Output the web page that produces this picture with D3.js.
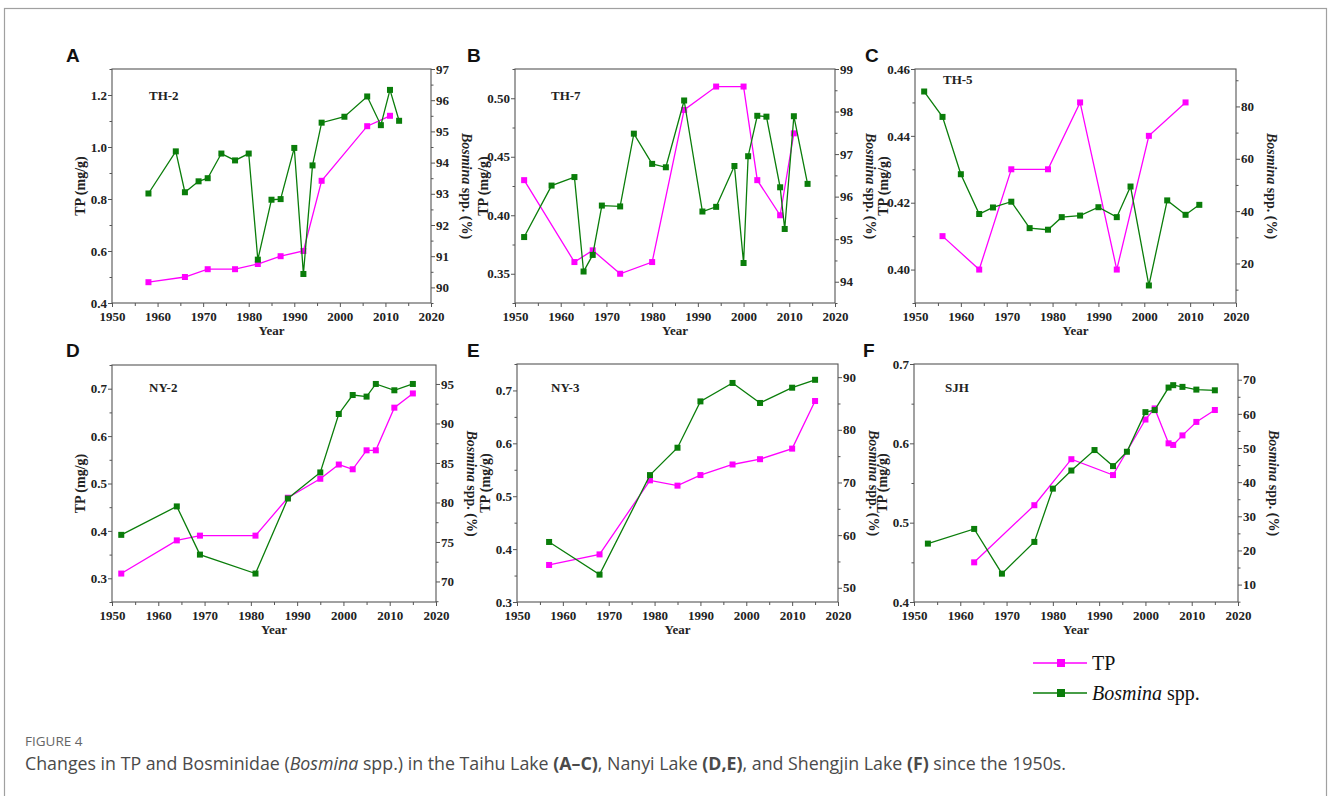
<!DOCTYPE html>
<html>
<head>
<meta charset="utf-8">
<script src="https://cdn.jsdelivr.net/npm/d3@7"></script>
<style>
  body { margin: 0; background: #fff; }
  svg { display: block; }
</style>
</head>
<body>
<div id="chart"></div>
<script>
// ---- data ----
// A: TH-2
const yearsA_tp = [1958, 1966, 1971, 1977, 1982, 1987, 1992, 1996, 2006, 2011];
const tpA = [0.48, 0.50, 0.53, 0.53, 0.55, 0.58, 0.60, 0.87, 1.08, 1.12];
const yearsA_bos = [1958, 1964, 1966, 1969, 1971, 1974, 1977, 1980, 1982, 1985, 1987, 1990, 1992, 1994, 1996, 2001, 2006, 2009, 2011, 2013];
const bosA = [93.01, 94.36, 93.05, 93.40, 93.50, 94.29, 94.07, 94.29, 90.89, 92.81, 92.83, 94.47, 90.43, 93.91, 95.28, 95.47, 96.12, 95.20, 96.33, 95.34];

// B: TH-7
const yearsB_tp = [1952, 1963, 1967, 1973, 1980, 1987, 1994, 2000, 2003, 2008, 2011];
const tpB = [0.43, 0.36, 0.37, 0.35, 0.36, 0.49, 0.51, 0.51, 0.43, 0.40, 0.47];
const yearsB_bos = [1952, 1958, 1963, 1965, 1967, 1969, 1973, 1976, 1980, 1983, 1987, 1991, 1994, 1998, 2000, 2001, 2003, 2005, 2008, 2009, 2011, 2014];
const bosB = [95.05, 96.26, 96.46, 94.24, 94.63, 95.79, 95.77, 97.48, 96.77, 96.69, 98.26, 95.65, 95.76, 96.72, 94.44, 96.95, 97.90, 97.88, 96.22, 95.24, 97.89, 96.30];

// C: TH-5
const yearsC_tp = [1956, 1964, 1971, 1979, 1986, 1994, 2001, 2009];
const tpC = [0.41, 0.40, 0.43, 0.43, 0.45, 0.40, 0.44, 0.45];
const yearsC_bos = [1952, 1956, 1960, 1964, 1967, 1971, 1975, 1979, 1982, 1986, 1990, 1994, 1997, 2001, 2005, 2009, 2012];
const bosC = [85.7, 76.0, 54.1, 38.9, 41.4, 43.6, 33.5, 32.9, 37.7, 38.3, 41.5, 37.7, 49.4, 11.6, 44.1, 38.6, 42.4];

// D: NY-2
const yearsD = [1952, 1964, 1969, 1981, 1988, 1995, 1999, 2002, 2005, 2007, 2011, 2015];
const tpD = [0.31, 0.38, 0.39, 0.39, 0.47, 0.51, 0.54, 0.53, 0.57, 0.57, 0.66, 0.69];
const bosD = [75.9, 79.5, 73.4, 71.0, 80.5, 83.8, 91.2, 93.6, 93.4, 95.0, 94.2, 95.0];

// E: NY-3
const yearsE = [1957, 1968, 1979, 1985, 1990, 1997, 2003, 2010, 2015];
const tpE = [0.37, 0.39, 0.53, 0.52, 0.54, 0.56, 0.57, 0.59, 0.68];
const bosE = [58.7, 52.5, 71.4, 76.6, 85.4, 88.9, 85.1, 88.0, 89.5];

// F: SJH
const yearsF_tp = [1963, 1976, 1984, 1993, 2000, 2002, 2005, 2006, 2008, 2011, 2015];
const tpF = [0.45, 0.522, 0.58, 0.56, 0.63, 0.644, 0.60, 0.598, 0.61, 0.627, 0.642];
const yearsF_bos = [1953, 1963, 1969, 1976, 1980, 1984, 1989, 1993, 1996, 2000, 2002, 2005, 2006, 2008, 2011, 2015];
const bosF = [22.0, 26.3, 13.2, 22.5, 38.1, 43.4, 49.4, 44.7, 48.9, 60.5, 61.1, 67.7, 68.4, 67.9, 67.1, 66.9];

const xTicks = [1950, 1960, 1970, 1980, 1990, 2000, 2010, 2020];

const TP_COLOR = "#ff00ff";
const BOS_COLOR = "#0a7d0a";
const AXIS_COLOR = "#555";
const SERIF = "'Liberation Serif', 'Times New Roman', serif";

const panels = [
  {letter: "A", station: "TH-2", box: [112, 69, 431, 303], lx: 66, ly: 62, sx: 149, sy: 100,
   tp: [yearsA_tp, tpA], bos: [yearsA_bos, bosA],
   yl: [0.4, 1.3], ylTicks: [0.4, 0.6, 0.8, 1.0, 1.2], ylFmt: ".1f", ylMinor: 0.1,
   yr: [89.5, 97], yrTicks: [90, 91, 92, 93, 94, 95, 96, 97], yrMinor: 0.5},
  {letter: "B", station: "TH-7", box: [515, 69, 835, 303], lx: 467, ly: 62, sx: 551, sy: 100,
   tp: [yearsB_tp, tpB], bos: [yearsB_bos, bosB],
   yl: [0.325, 0.525], ylTicks: [0.35, 0.40, 0.45, 0.50], ylFmt: ".2f", ylMinor: 0.025,
   yr: [93.5, 99], yrTicks: [94, 95, 96, 97, 98, 99], yrMinor: 0.5},
  {letter: "C", station: "TH-5", box: [915, 69, 1236, 303], lx: 865, ly: 62, sx: 943, sy: 84,
   tp: [yearsC_tp, tpC], bos: [yearsC_bos, bosC],
   yl: [0.39, 0.46], ylTicks: [0.40, 0.42, 0.44, 0.46], ylFmt: ".2f", ylMinor: 0.01,
   yr: [4.9, 94.3], yrTicks: [20, 40, 60, 80], yrMinor: 10},
  {letter: "D", station: "NY-2", box: [112, 365, 436, 602], lx: 66, ly: 357, sx: 149, sy: 392,
   tp: [yearsD, tpD], bos: [yearsD, bosD],
   yl: [0.25, 0.75], ylTicks: [0.3, 0.4, 0.5, 0.6, 0.7], ylFmt: ".1f", ylMinor: 0.05,
   yr: [67.4, 97.4], yrTicks: [70, 75, 80, 85, 90, 95], yrMinor: 2.5},
  {letter: "E", station: "NY-3", box: [517, 364, 838, 602], lx: 467, ly: 357, sx: 551, sy: 392,
   tp: [yearsE, tpE], bos: [yearsE, bosE],
   yl: [0.3, 0.75], ylTicks: [0.3, 0.4, 0.5, 0.6, 0.7], ylFmt: ".1f", ylMinor: 0.05,
   yr: [47.3, 92.5], yrTicks: [50, 60, 70, 80, 90], yrMinor: 5},
  {letter: "F", station: "SJH", box: [914, 364, 1238, 602], lx: 863, ly: 357, sx: 945, sy: 392,
   tp: [yearsF_tp, tpF], bos: [yearsF_bos, bosF],
   yl: [0.4, 0.7], ylTicks: [0.4, 0.5, 0.6, 0.7], ylFmt: ".1f", ylMinor: 0.05,
   yr: [4.9, 74.6], yrTicks: [10, 20, 30, 40, 50, 60, 70], yrMinor: 5}
];

const W = 1328, H = 796;
const svg = d3.select("#chart").append("svg")
  .attr("width", W).attr("height", H);

// outer frame (bottom edge runs off the page)
svg.append("rect")
  .attr("x", 4.5).attr("y", 8.5)
  .attr("width", 1322).attr("height", 820)
  .attr("fill", "none").attr("stroke", "#a0a0a0").attr("stroke-width", 1.2);

function minorValues(domain, step, majors) {
  const out = [];
  const start = Math.ceil(domain[0] / step - 1e-9) * step;
  for (let v = start; v <= domain[1] + 1e-9; v += step) {
    const r = +v.toFixed(6);
    if (!majors.some(m => Math.abs(m - r) < 1e-6)) out.push(r);
  }
  return out;
}

function styleAxis(g) {
  g.select(".domain").remove();
  g.selectAll(".tick line").attr("stroke", AXIS_COLOR).attr("stroke-width", 1);
  g.selectAll(".tick text")
    .attr("fill", "#222")
    .style("font-family", SERIF)
    .style("font-weight", "bold")
    .style("font-size", "13px");
}

panels.forEach(p => {
  const [x0, y0, x1, y1] = p.box;
  const x = d3.scaleLinear().domain([1950, 2020]).range([x0, x1]);
  const yL = d3.scaleLinear().domain(p.yl).range([y1, y0]);
  const yR = d3.scaleLinear().domain(p.yr).range([y1, y0]);
  const g = svg.append("g");

  // x axis
  g.append("g").attr("transform", `translate(0,${y1})`)
    .call(d3.axisBottom(x).tickValues(xTicks).tickFormat(d3.format("d")).tickSize(4).tickPadding(5))
    .call(styleAxis);
  g.append("g").attr("transform", `translate(0,${y1})`)
    .call(d3.axisBottom(x).tickValues(d3.range(1955, 2020, 10)).tickFormat("").tickSize(3))
    .call(styleAxis);

  // left axis
  g.append("g").attr("transform", `translate(${x0},0)`)
    .call(d3.axisLeft(yL).tickValues(p.ylTicks).tickFormat(d3.format(p.ylFmt)).tickSize(4).tickPadding(1))
    .call(styleAxis);
  g.append("g").attr("transform", `translate(${x0},0)`)
    .call(d3.axisLeft(yL).tickValues(minorValues(p.yl, p.ylMinor, p.ylTicks)).tickFormat("").tickSize(2.5))
    .call(styleAxis);

  // right axis
  g.append("g").attr("transform", `translate(${x1},0)`)
    .call(d3.axisRight(yR).tickValues(p.yrTicks).tickFormat(d3.format("d")).tickSize(4).tickPadding(1))
    .call(styleAxis);
  g.append("g").attr("transform", `translate(${x1},0)`)
    .call(d3.axisRight(yR).tickValues(minorValues(p.yr, p.yrMinor, p.yrTicks)).tickFormat("").tickSize(2.5))
    .call(styleAxis);

  // frame
  g.append("rect")
    .attr("x", x0).attr("y", y0)
    .attr("width", x1 - x0).attr("height", y1 - y0)
    .attr("fill", "none").attr("stroke", AXIS_COLOR).attr("stroke-width", 1.1);

  // axis titles
  g.append("text")
    .attr("x", (x0 + x1) / 2).attr("y", y1 + 32)
    .attr("text-anchor", "middle")
    .style("font-family", SERIF).style("font-weight", "bold").style("font-size", "13px")
    .attr("fill", "#222")
    .text("Year");

  g.append("text")
    .attr("transform", `translate(${x0 - 27},${(y0 + y1) / 2}) rotate(-90)`)
    .attr("text-anchor", "middle")
    .style("font-family", SERIF).style("font-weight", "bold").style("font-size", "14px")
    .attr("fill", "#222")
    .text("TP (mg/g)");

  const rt = g.append("text")
    .attr("transform", `translate(${x1 + 31},${(y0 + y1) / 2}) rotate(90)`)
    .attr("text-anchor", "middle")
    .style("font-family", SERIF).style("font-weight", "bold").style("font-size", "14px")
    .attr("fill", "#222");
  rt.append("tspan").style("font-style", "italic").text("Bosmina");
  rt.append("tspan").text(" spp. (%)");

  // panel letter and station
  svg.append("text")
    .attr("x", p.lx).attr("y", p.ly)
    .style("font-family", "'Liberation Sans', Arial, sans-serif")
    .style("font-weight", "bold").style("font-size", "19px")
    .attr("fill", "#111")
    .text(p.letter);

  g.append("text")
    .attr("x", p.sx).attr("y", p.sy)
    .style("font-family", SERIF).style("font-weight", "bold").style("font-size", "13px")
    .attr("fill", "#222")
    .text(p.station);

  // series
  const series = [
    {yrs: p.tp[0], vals: p.tp[1], y: yL, color: TP_COLOR},
    {yrs: p.bos[0], vals: p.bos[1], y: yR, color: BOS_COLOR}
  ];
  series.forEach(s => {
    const pts = s.yrs.map((yr, i) => [yr, s.vals[i]]);
    g.append("path")
      .datum(pts)
      .attr("fill", "none")
      .attr("stroke", s.color)
      .attr("stroke-width", 1.3)
      .attr("d", d3.line().x(d => x(d[0])).y(d => s.y(d[1])));
    g.selectAll(null)
      .data(pts)
      .join("rect")
      .attr("x", d => x(d[0]) - 3)
      .attr("y", d => s.y(d[1]) - 3)
      .attr("width", 6).attr("height", 6)
      .attr("fill", s.color);
  });
});

// legend
const legendItems = [
  {label: "TP", italic: null, color: TP_COLOR, y: 663},
  {label: " spp.", italic: "Bosmina", color: BOS_COLOR, y: 693}
];
legendItems.forEach(d => {
  const lg = svg.append("g");
  lg.append("line")
    .attr("x1", 1033).attr("x2", 1087).attr("y1", d.y).attr("y2", d.y)
    .attr("stroke", d.color).attr("stroke-width", 1.4);
  lg.append("rect")
    .attr("x", 1057).attr("y", d.y - 4).attr("width", 8).attr("height", 8)
    .attr("fill", d.color);
  const t = lg.append("text")
    .attr("x", 1092).attr("y", d.y + 7)
    .style("font-family", SERIF).style("font-size", "20px")
    .attr("fill", "#111");
  if (d.italic) t.append("tspan").style("font-style", "italic").text(d.italic);
  t.append("tspan").text(d.label);
});

// caption
svg.append("text")
  .attr("x", 25).attr("y", 746)
  .style("font-family", "'Open Sans', sans-serif").style("font-size", "13.5px")
  .attr("fill", "#666")
  .text("FIGURE 4");

const cap = svg.append("text")
  .attr("x", 25).attr("y", 770)
  .style("font-family", "'Open Sans', sans-serif").style("font-size", "17.8px")
  .attr("fill", "#4a4a4a");
const capParts = [
  ["Changes in TP and Bosminidae (", ""],
  ["Bosmina", "i"],
  [" spp.) in the Taihu Lake ", ""],
  ["(A\u2013C)", "b"],
  [", Nanyi Lake ", ""],
  ["(D,E)", "b"],
  [", and Shengjin Lake ", ""],
  ["(F)", "b"],
  [" since the 1950s.", ""]
];
capParts.forEach(([txt, st]) => {
  const ts = cap.append("tspan").text(txt);
  if (st === "i") ts.style("font-style", "italic");
  if (st === "b") ts.style("font-weight", "bold");
});
</script>
</body>
</html>
